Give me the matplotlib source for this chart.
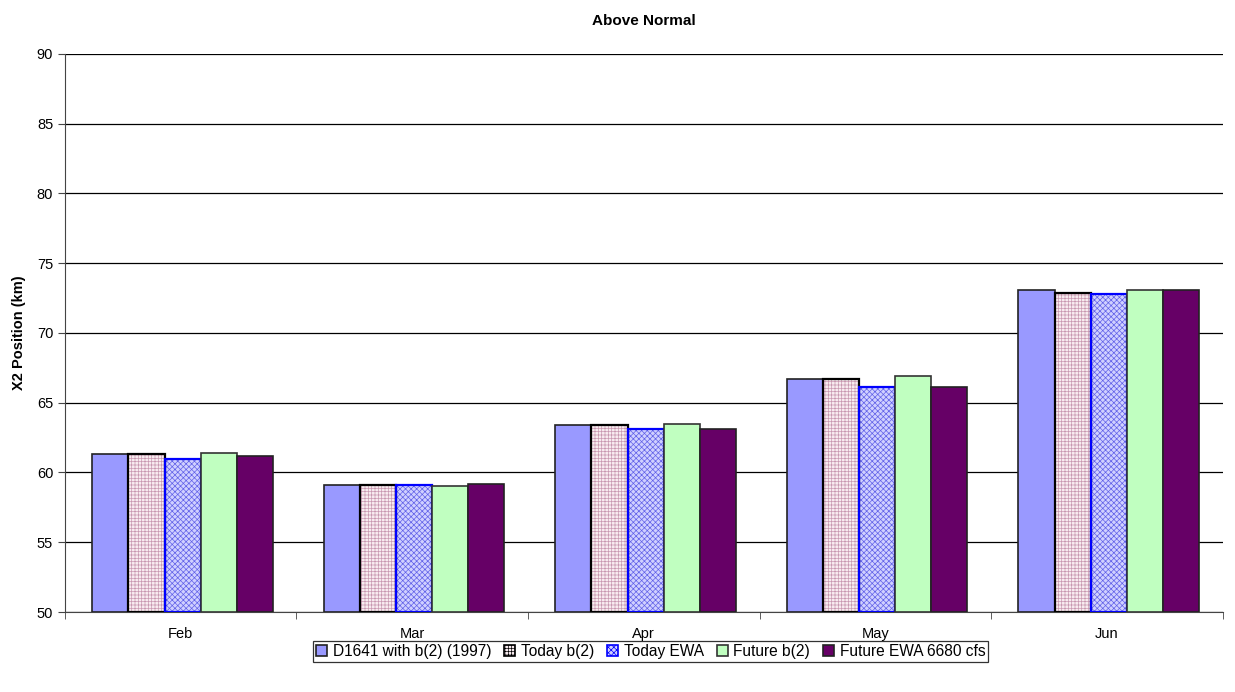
import numpy as np
import matplotlib.pyplot as plt
from matplotlib.patches import Patch

plt.rcParams['font.family'] = ['Liberation Sans', 'DejaVu Sans']
plt.rcParams['hatch.linewidth'] = 0.5

months = ['Feb', 'Mar', 'Apr', 'May', 'Jun']
series_names = ['D1641 with b(2) (1997)', 'Today b(2)', 'Today EWA', 'Future b(2)', 'Future EWA 6680 cfs']
d1641 = [61.3, 59.1, 63.4, 66.7, 73.1]
today_b2 = [61.35, 59.12, 63.38, 66.72, 72.87]
today_ewa = [61.0, 59.12, 63.1, 66.1, 72.8]
future_b2 = [61.4, 59.05, 63.5, 66.9, 73.1]
future_ewa = [61.2, 59.2, 63.12, 66.15, 73.1]

data = [d1641, today_b2, today_ewa, future_b2, future_ewa]

# fill, edge, hatch, hatch colour
styles = [
    ('#9999FF', '#222222', None, None),
    ('#F8ECF0', '#000000', '+++++', '#C898B0'),
    ('#D0D0FF', '#0000FF', 'xxxxxx', '#6060E8'),
    ('#C0FFC0', '#333333', None, None),
    ('#660066', '#222222', None, None),
]

fig = plt.figure(figsize=(12.35, 6.92), dpi=100)
ax = fig.add_axes([0.0526, 0.1156, 0.9374, 0.8064])

x = np.arange(len(months))
w = 0.156
for i, vals in enumerate(data):
    fc, ec, hatch, hc = styles[i]
    pos = x + (i - 2) * w + 0.008
    if hatch:
        ax.bar(pos, np.array(vals) - 50, w, bottom=50, color=fc, edgecolor=hc,
               hatch=hatch, linewidth=0, zorder=2)
        ax.bar(pos, np.array(vals) - 50, w, bottom=50, facecolor='none', edgecolor=ec,
               linewidth=1.6, zorder=3)
    else:
        ax.bar(pos, np.array(vals) - 50, w, bottom=50, color=fc, edgecolor=ec,
               linewidth=1.2, zorder=3)

ax.set_ylim(50, 90)
ax.set_xlim(-0.5, len(months) - 0.5)
ax.set_yticks(np.arange(50, 91, 5))
ax.yaxis.grid(True, color='black', linewidth=0.9, zorder=0)
ax.set_axisbelow(True)

ax.set_xticks(x)
ax.set_xticklabels(months, fontsize=10.5)
ax.tick_params(axis='x', length=0, pad=11)
ax.set_xticks(np.arange(-0.5, len(months), 1), minor=True)
ax.tick_params(axis='x', which='minor', length=5, direction='out', color='#444444')
ax.tick_params(axis='y', labelsize=10.5, length=5, direction='out', color='#444444')

for s in ['top', 'right']:
    ax.spines[s].set_visible(False)
ax.spines['left'].set_color('#444444')
ax.spines['bottom'].set_color('#444444')

ax.set_ylabel('X2 Position (km)', fontsize=10.5, fontweight='bold', labelpad=8)
ax.set_title('Above Normal', fontsize=11, fontweight='bold', pad=21)

handles = []
for i, name in enumerate(series_names):
    fc, ec, hatch, hc = styles[i]
    handles.append(Patch(facecolor=fc, edgecolor=ec, hatch=hatch, linewidth=1.2, label=name))
leg = fig.legend(handles=handles, loc='center', bbox_to_anchor=(0.527, 0.0585), ncol=5,
                 fontsize=11.2, frameon=True, fancybox=False, edgecolor='black',
                 handlelength=0.7, handleheight=0.7, handletextpad=0.35, columnspacing=0.85,
                 borderpad=0.2, borderaxespad=0)
leg.get_frame().set_linewidth(0.9)

fig.savefig('out.png', dpi=100)
